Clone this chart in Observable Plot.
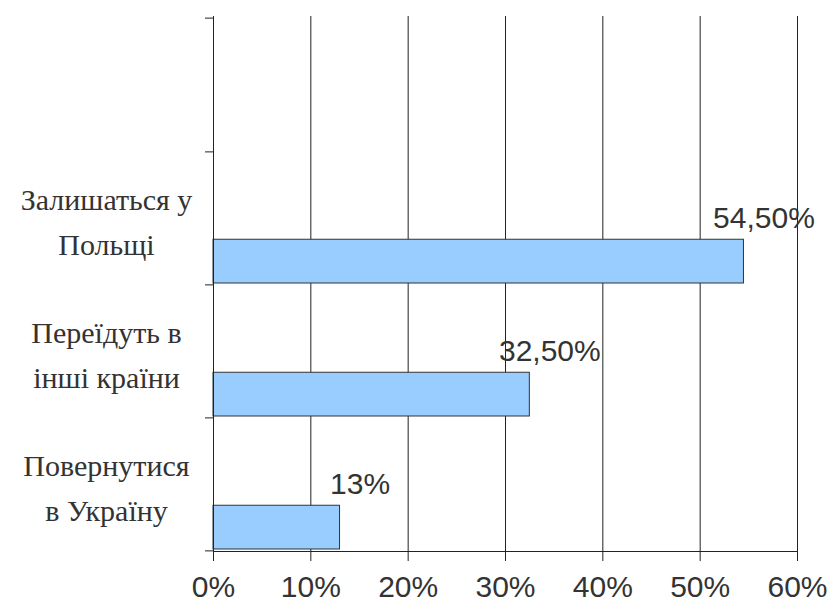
<!DOCTYPE html>
<html>
<head>
<meta charset="utf-8">
<script src="https://cdn.jsdelivr.net/npm/d3@7"></script>
<script src="https://cdn.jsdelivr.net/npm/@observablehq/plot@0.6"></script>
<style>
  html, body { margin: 0; padding: 0; background: #ffffff; }
  #chart { width: 832px; height: 609px; }
</style>
</head>
<body>
<div id="chart"></div>
<script>
// Categories (top band is intentionally empty, as in the original)
const emptyCategory = " ";
const categories = ["Залишаться у\nПольщі", "Переїдуть в\nінші країни", "Повернутися\nв Україну"];
const values = [54.5, 32.5, 13];
const valueLabels = ["54,50%", "32,50%", "13%"];
const xTicks = [0, 10, 20, 30, 40, 50, 60];
const xTickLabels = ["0%", "10%", "20%", "30%", "40%", "50%", "60%"];

const data = categories.map((c, i) => ({category: c, value: values[i], label: valueLabels[i]}));
const yDomain = [emptyCategory, ...categories];

const W = 832, H = 609;
const mT = 16, mB = 58, mL = 213, mR = 35;
const bandH = (H - mT - mB) / yDomain.length;

const chart = Plot.plot({
  width: W,
  height: H,
  marginTop: mT,
  marginBottom: mB,
  marginLeft: mL,
  marginRight: mR,
  style: {fontFamily: "Liberation Sans", fontSize: "30px", color: "#333", background: "#ffffff"},
  x: {domain: [0, 60]},
  y: {domain: yDomain, padding: 0},
  marks: [
    Plot.gridX(xTicks, {stroke: "#222", strokeOpacity: 1, strokeWidth: 1}),
    Plot.barX(data, {
      x: "value", y: "category",
      fill: "#99CCFF", stroke: "#333", strokeWidth: 1,
      insetTop: bandH - 45.5, insetBottom: 1
    }),
    Plot.ruleX([0], {stroke: "#222", strokeWidth: 1}),
    Plot.frame({anchor: "bottom", stroke: "#222", strokeWidth: 1}),
    // boundary ticks on the category axis
    Plot.axisY({ticks: yDomain, tickSize: 8, tickFormat: () => "", dy: bandH / 2, stroke: "#222", label: null}),
    Plot.axisY({ticks: [emptyCategory], tickSize: 8, tickFormat: () => "", dy: -bandH / 2, stroke: "#222", label: null}),
    // category labels (serif)
    Plot.text(data, {
      y: "category", text: "category",
      frameAnchor: "left", dx: -107, textAnchor: "middle",
      fontFamily: "Liberation Serif", fontSize: 30, lineHeight: 1.5, fill: "#333"
    }),
    // value labels
    Plot.text(data, {
      x: "value", y: "category", text: "label",
      textAnchor: "middle", dx: 20,
      fontFamily: "Liberation Sans", fontSize: 30, fill: "#333"
    }),
    Plot.axisX({
      ticks: xTicks,
      tickFormat: (d) => xTickLabels[xTicks.indexOf(d)],
      tickSize: 10, tickPadding: 14, stroke: "#222",
      fontSize: 30, fontFamily: "Liberation Sans", fill: "#333", label: null
    })
  ]
});

document.getElementById("chart").appendChild(chart);
</script>
</body>
</html>
